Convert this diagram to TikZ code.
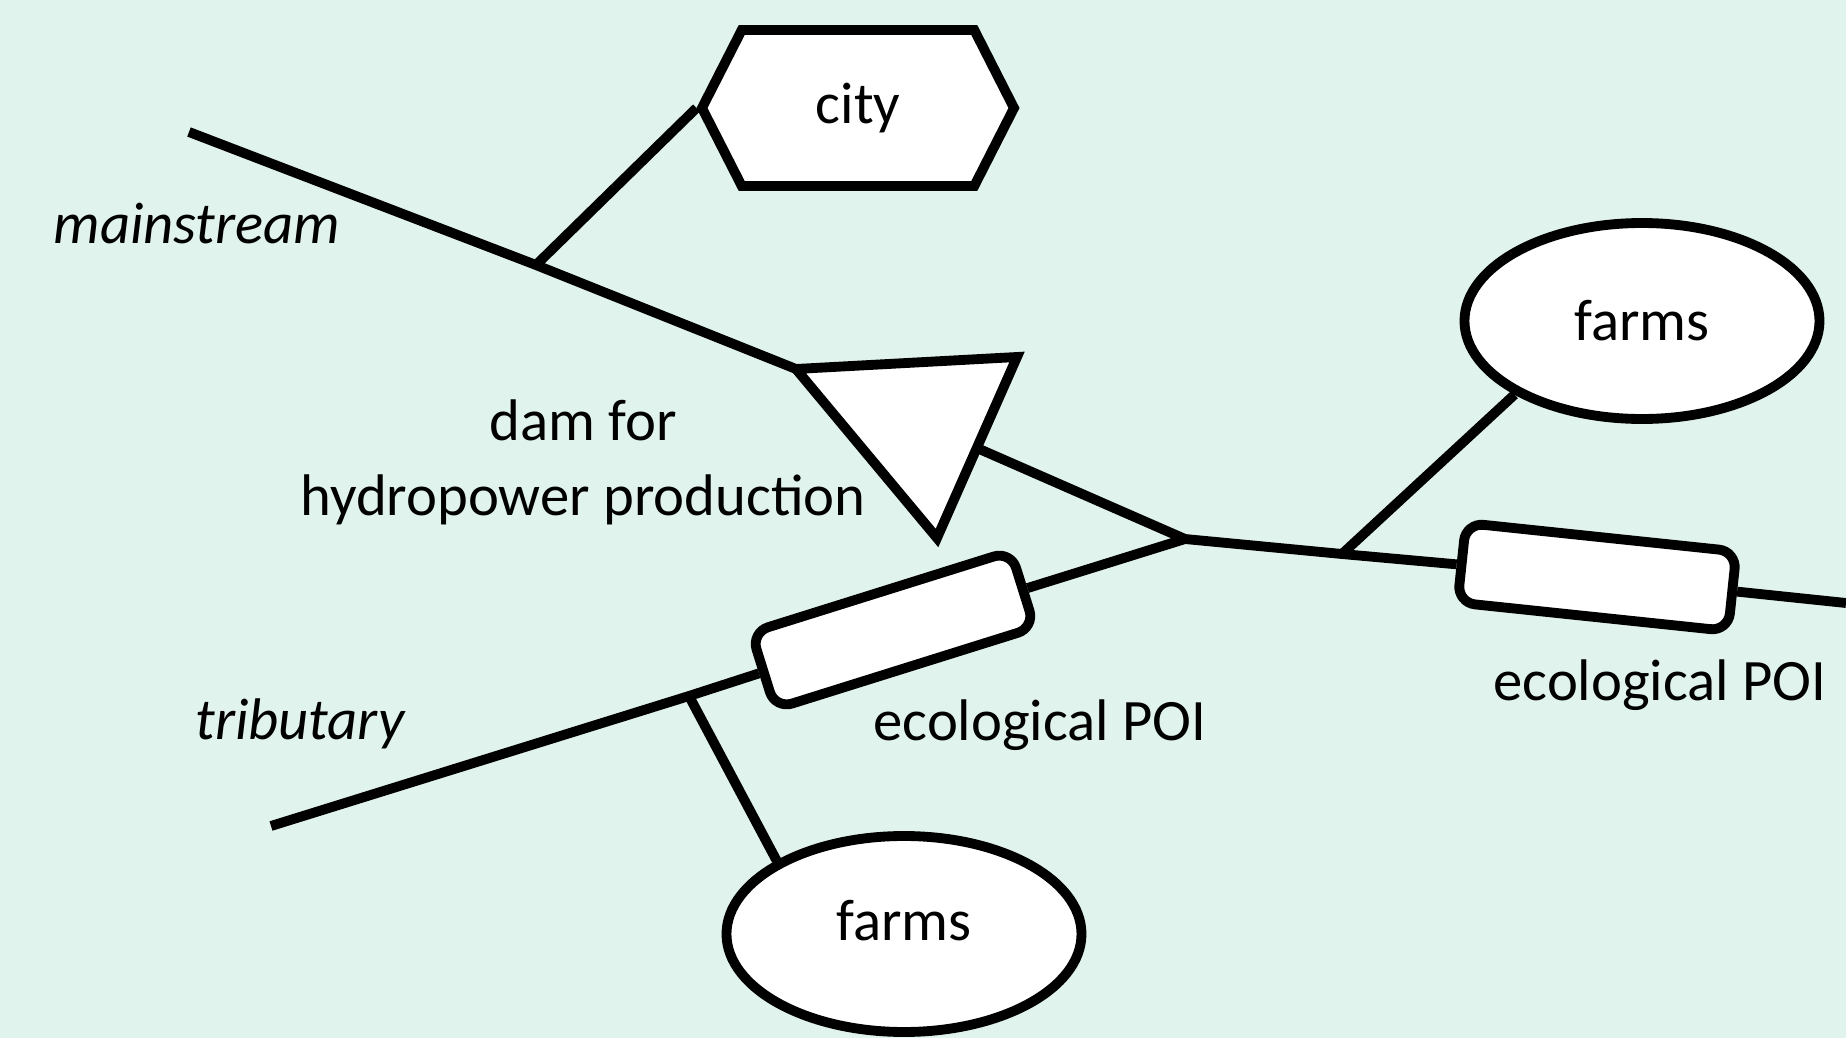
\documentclass[tikz,border=0pt]{standalone}
\usepackage{fontspec}
\setmainfont{Carlito}
\usetikzlibrary{shapes.geometric,shapes.symbols}
\definecolor{mint}{RGB}{225,243,237}
\tikzset{
  river/.style={line width=2.8pt},
  box/.style={draw,line width=2.8pt,fill=white},
  poi/.style={box,rounded corners=5pt,minimum width=2.72cm,minimum height=0.8cm,inner sep=0pt},
  farm/.style={box,ellipse,minimum width=3.55cm,minimum height=1.96cm},
  town/.style={box,signal,signal to=west and east,signal pointer angle=126,
    minimum width=3.12cm,minimum height=1.56cm,inner sep=0pt},
  slanted/.style={font=\fontsize{16.7}{21.3}\selectfont\itshape},
}
\begin{document}
\begin{tikzpicture}[font=\fontsize{16.7}{21.3}\selectfont]
  \fill[mint] (0,0) rectangle (18.46,10.38);
  \useasboundingbox (0,0) rectangle (18.46,10.38);
  % mainstream and tributary points
  \coordinate (msrc) at (1.89,9.06);
  \coordinate (cityjoin) at (5.36,7.73);
  \coordinate (damL) at (7.96,6.69);
  \coordinate (damR) at (10.17,6.81);
  \coordinate (damB) at (9.37,5.00);
  \coordinate (damout) at (9.77,5.90);
  \coordinate (conf) at (11.85,4.99);
  \coordinate (rfarmjoin) at (13.42,4.84);
  \coordinate (rend) at (18.46,4.35);
  \coordinate (tsrc) at (2.71,2.12);
  \coordinate (tfarmjoin) at (6.89,3.42);
  % users
  \node[town] (city) at (8.58,9.30) {city};
  \node[farm] (farmR) at (16.42,7.17) {farms};
  \node[farm,text depth=0.28cm] (farmB) at (9.04,1.04) {farms};
  \node[poi,rotate=17.4] (poiT) at (8.93,4.08) {};
  \node[poi,rotate=-6] (poiM) at (15.97,4.61) {};
  % rivers
  \draw[river] (msrc) -- (cityjoin) -- (damL);
  \draw[river] (cityjoin) -- (city.west);
  \draw[river] (damout) -- (conf) -- (rfarmjoin) -- (poiM);
  \draw[river] (poiM) -- (rend);
  \draw[river] (rfarmjoin) -- (farmR.210);
  \draw[river] (tsrc) -- (tfarmjoin) -- (poiT);
  \draw[river] (poiT) -- (conf);
  \draw[river] (tfarmjoin) -- (farmB.150);
  % dam
  \draw[box] (damL) -- (damR) -- (damB) -- cycle;
  % labels
  \node[slanted] (mslabel) at (1.97,8.14) {mainstream};
  \node[slanted] (trlabel) at (3.00,3.14) {tributary};
  \node[align=center] (damlabel) at (5.83,5.76) {dam for\\hydropower production};
  \node (poiTlabel) at (10.40,3.13) {ecological POI};
  \node (poiMlabel) at (16.60,3.53) {ecological POI};
\end{tikzpicture}
\end{document}
